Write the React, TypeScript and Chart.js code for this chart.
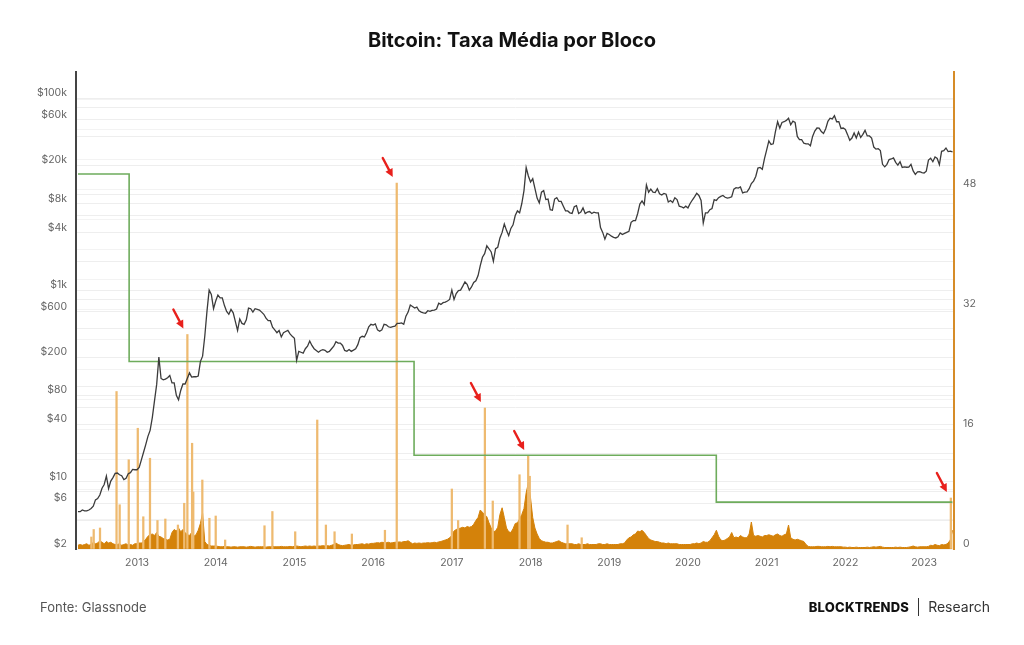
import React, { useEffect, useRef } from 'react';
import { Chart, registerables } from 'chart.js';
Chart.register(...registerables);

// ---------- data ----------
const yearTicks = [2013, 2014, 2015, 2016, 2017, 2018, 2019, 2020, 2021, 2022, 2023];

// samples every ~10 days (1st, 11th, 21st of each month) starting Apr 2012
const sampleStart = 2012.25;
const sampleStep = 1 / 36;

// BTC price (USD)
const priceValues = [
  // 2012 Apr-Dec
  4.9, 4.9, 5.1, 5.0, 5.0, 5.1, 5.3, 5.6, 6.5, 6.7, 7.3, 8.6, 9.4, 11.5, 8.5, 10.2, 11.1, 12.3, 12.4, 11.9, 11.6, 10.6, 10.9, 12.2, 12.5, 13.5, 13.4,
  // 2013
  13.4, 14.2, 17.0, 20.4, 24.5, 29.9, 34.5, 46.9, 70, 104, 200, 120, 116, 118, 122, 129, 108, 108, 80, 72, 90, 105, 105, 120, 137, 124, 125, 125, 127, 180, 205, 330, 600, 1000, 900, 640,
  // 2014
  770, 890, 830, 830, 690, 600, 560, 630, 580, 470, 380, 500, 450, 440, 490, 650, 640, 590, 640, 630, 620, 590, 560, 510, 480, 480, 410, 385, 360, 380, 325, 360, 370, 380, 350, 330,
  // 2015
  315, 185, 230, 225, 220, 245, 260, 295, 265, 245, 235, 225, 235, 240, 236, 225, 230, 245, 260, 290, 280, 280, 265, 235, 230, 240, 230, 237, 245, 270, 320, 330, 325, 360, 415, 440,
  // 2016
  432, 445, 385, 372, 385, 440, 435, 415, 410, 417, 420, 450, 450, 455, 440, 535, 590, 700, 675, 650, 665, 610, 590, 580, 575, 610, 600, 615, 620, 635, 730, 710, 740, 750, 770, 800,
  // 2017
  1000, 800, 920, 990, 1000, 1100, 1220, 1150, 1000, 1080, 1200, 1250, 1420, 1800, 2200, 2400, 2900, 2700, 2500, 2000, 2700, 2800, 3500, 4000, 4900, 4200, 3700, 4400, 4800, 6000, 6700, 6400, 8000, 10900, 19000, 15500,
  // 2018
  13400, 14500, 11500, 9100, 8100, 10500, 10900, 8800, 8900, 6900, 6800, 8900, 9200, 8400, 8400, 7500, 6700, 6700, 6400, 6300, 7400, 7600, 6300, 6500, 7200, 6300, 6500, 6600, 6300, 6500, 6400, 6400, 4500, 4000, 3400, 3900,
  // 2019
  3800, 3650, 3550, 3500, 3600, 3950, 3800, 3900, 4000, 4100, 5100, 5300, 5300, 6300, 7900, 8500, 7800, 12500, 10500, 11300, 10500, 10400, 11400, 10100, 9800, 10200, 10000, 8300, 8600, 8200, 9200, 8800, 7500, 7400, 7200, 7500,
  // 2020
  7200, 8000, 8700, 9400, 10200, 9700, 8600, 5000, 6400, 6400, 6900, 7100, 8800, 8600, 9200, 9500, 9700, 9300, 9100, 9200, 9400, 11300, 11700, 11600, 11900, 10300, 10500, 10600, 11400, 12900, 13700, 15300, 18700, 19000, 18200, 23500,
  // 2021
  29000, 36000, 33000, 33500, 45000, 57000, 49000, 56000, 57000, 58800, 62000, 53000, 57800, 56000, 40000, 37000, 37000, 34000, 33500, 33500, 32000, 40000, 45500, 49000, 48800, 45000, 43000, 48200, 57500, 62000, 61000, 66000, 57000, 57200, 48500, 49000,
  // 2022
  47300, 41800, 36500, 38500, 43500, 38500, 44400, 39000, 42000, 46300, 40500, 40500, 38500, 31000, 29500, 29800, 28500, 20500, 19300, 20500, 23000, 23300, 23900, 21500, 20100, 21800, 19000, 19300, 19100, 19200, 20500, 17500, 16100, 17100, 17200, 16800,
  // 2023 Jan-May
  16600, 17400, 22700, 23700, 21800, 24500, 23600, 20300, 28000, 28500, 30300, 27800, 28100, 27600,
];

// average fee per block (BTC)
const feeValues = [
  // 2012 Apr-Dec
  0.5, 0.6, 0.5, 0.6, 0.7, 0.5, 0.6, 0.9, 0.7, 0.8, 1.1, 0.9, 0.7, 1.0, 0.8, 0.9, 0.7, 0.6, 0.6, 0.7, 0.5, 0.6, 0.7, 0.5, 0.6, 0.5, 0.7,
  // 2013
  0.7, 0.8, 0.8, 1.0, 1.3, 1.7, 1.9, 2.0, 1.8, 2.2, 1.7, 1.6, 1.4, 1.3, 1.2, 1.3, 2.2, 2.6, 2.4, 2.8, 2.3, 2.6, 2.2, 1.9, 1.8, 2.2, 1.7, 1.9, 2.5, 3.4, 4.8, 1.0, 0.6, 0.5, 0.4, 0.4,
  // 2014
  0.4, 0.35, 0.3, 0.3, 0.35, 0.3, 0.3, 0.25, 0.3, 0.3, 0.25, 0.3, 0.3, 0.3, 0.25, 0.3, 0.35, 0.3, 0.25, 0.3, 0.3, 0.3, 0.3, 0.25, 0.3, 0.3, 0.35, 0.3, 0.3, 0.3, 0.35, 0.3, 0.3, 0.3, 0.35, 0.3,
  // 2015
  0.35, 0.4, 0.35, 0.3, 0.35, 0.4, 0.35, 0.4, 0.35, 0.4, 0.35, 0.4, 0.4, 0.45, 0.4, 0.45, 0.4, 0.5, 0.6, 0.8, 0.6, 0.5, 0.45, 0.5, 0.55, 0.6, 0.5, 0.55, 0.6, 0.6, 0.65, 0.7, 0.6, 0.7, 0.65, 0.75,
  // 2016
  0.75, 0.8, 0.85, 0.8, 0.9, 0.85, 0.85, 0.9, 0.8, 0.85, 0.9, 0.9, 0.95, 0.9, 1.0, 1.0, 1.1, 0.9, 0.7, 0.8, 0.75, 0.8, 0.75, 0.8, 0.8, 0.85, 0.8, 0.85, 0.9, 0.85, 0.95, 1.0, 1.1, 1.2, 1.3, 1.5,
  // 2017
  1.8, 2.4, 2.6, 2.7, 2.8, 2.9, 2.8, 3.0, 2.9, 3.0, 3.3, 3.8, 4.2, 5.2, 4.9, 4.6, 4.3, 3.5, 2.8, 2.3, 2.4, 2.9, 4.6, 5.5, 4.2, 2.8, 2.3, 2.2, 2.7, 3.4, 3.5, 4.0, 4.6, 5.4, 7.5, 8.8,
  // 2018
  6.8, 4.2, 2.8, 2.0, 1.4, 1.1, 1.0, 0.9, 0.9, 0.8, 0.8, 0.9, 1.0, 1.1, 0.9, 0.8, 0.7, 0.7, 0.7, 0.7, 0.6, 0.6, 0.7, 0.6, 0.6, 0.6, 0.7, 0.6, 0.6, 0.6, 0.6, 0.7, 0.7, 0.6, 0.6, 0.7,
  // 2019
  0.6, 0.6, 0.6, 0.6, 0.6, 0.7, 0.7, 0.8, 1.2, 1.5, 1.6, 1.9, 2.0, 2.4, 2.3, 2.5, 2.2, 1.8, 1.4, 1.2, 1.1, 1.0, 1.0, 0.9, 0.8, 0.8, 0.7, 0.8, 0.7, 0.7, 0.7, 0.7, 0.6, 0.6, 0.6, 0.6,
  // 2020
  0.6, 0.6, 0.7, 0.7, 0.8, 0.7, 0.8, 1.0, 0.9, 0.9, 1.1, 1.5, 1.9, 2.5, 1.7, 1.2, 1.1, 1.2, 1.4, 1.6, 2.2, 1.5, 1.6, 1.5, 1.8, 1.6, 1.5, 1.5, 2.0, 3.6, 1.8, 1.7, 1.8, 1.7, 1.6, 1.8,
  // 2021
  1.8, 1.9, 1.8, 1.7, 1.9, 2.0, 1.8, 1.7, 1.9, 2.0, 3.2, 1.5, 1.3, 1.2, 1.3, 1.2, 1.1, 1.0, 0.6, 0.35, 0.3, 0.3, 0.3, 0.35, 0.35, 0.3, 0.3, 0.3, 0.35, 0.3, 0.35, 0.3, 0.3, 0.3, 0.3, 0.25,
  // 2022
  0.25, 0.2, 0.25, 0.2, 0.2, 0.25, 0.2, 0.2, 0.2, 0.2, 0.25, 0.2, 0.25, 0.3, 0.25, 0.3, 0.35, 0.25, 0.2, 0.2, 0.2, 0.2, 0.2, 0.25, 0.2, 0.25, 0.2, 0.2, 0.2, 0.25, 0.3, 0.4, 0.3, 0.25, 0.3, 0.3,
  // 2023 Jan-May
  0.3, 0.3, 0.35, 0.5, 0.45, 0.6, 0.5, 0.45, 0.6, 0.55, 0.6, 0.8, 1.2, 2.5,
];

// single-day fee spikes (decimal year, BTC)
const spikeDates = [
  2012.42, 2012.45, 2012.53, 2012.74, 2012.78, 2012.895, 2013.01, 2013.08, 2013.165, 2013.26, 2013.36, 2013.52, 2013.6,
  2013.64, 2013.70, 2013.715, 2013.83, 2013.92, 2014.0, 2014.12, 2014.62, 2014.72, 2015.01, 2015.29, 2015.40, 2015.51,
  2015.73, 2016.15, 2016.30, 2017.0, 2017.08, 2017.42, 2017.52, 2017.86, 2017.97, 2017.99, 2018.47, 2018.65, 2023.34,
];
const spikeValues = [
  1.6, 2.6, 2.8, 21, 5.9, 11.9, 16.1, 4.3, 12.1, 3.8, 4.0, 3.2, 6.1,
  28.6, 14.1, 7.6, 9.2, 4.1, 4.4, 1.2, 3.1, 5.0, 2.3, 17.2, 3.2, 2.3,
  2.0, 2.5, 48.8, 8.0, 3.8, 18.8, 6.4, 9.9, 12.4, 9.7, 3.2, 1.5, 6.8,
];

// block subsidy (BTC)
const rewardDates = [2012.25, 2012.9, 2016.52, 2020.36, 2023.36];
const rewardValues = [50, 25, 12.5, 6.25, 6.25];

// highlighted spikes
const arrowDates = [2013.64, 2016.30, 2017.42, 2017.97, 2023.34];
const arrowValues = [28.6, 48.8, 18.8, 12.4, 6.8];

const priceTickValues = [2, 4, 6, 8, 10, 20, 40, 60, 80, 100, 200, 400, 600, 800, 1000, 2000, 4000, 6000, 8000, 10000, 20000, 40000, 60000, 80000, 100000];
const priceLabeled = [2, 6, 10, 40, 80, 200, 600, 1000, 4000, 8000, 20000, 60000, 100000];
const feeTickValues = [0, 4, 8, 12, 16, 20, 24, 28, 32, 36, 40, 44, 48, 52, 56, 60];
const feeLabeled = [0, 16, 32, 48];

// ---------- helpers ----------
const sampled = (vals: number[]) => vals.map((v, i) => ({ x: sampleStart + i * sampleStep, y: v }));
const zip = (xs: number[], ys: number[]) => xs.map((x, i) => ({ x, y: ys[i] }));
const fmtPrice = (v: number) => (v >= 1000 ? `$${v / 1000}k` : `$${v}`);

const arrowPlugin = {
  id: 'redArrows',
  afterDatasetsDraw(chart: any) {
    const { ctx, scales } = chart;
    const x = scales.x;
    const y1 = scales.y1;
    ctx.save();
    ctx.strokeStyle = '#e8201c';
    ctx.fillStyle = '#e8201c';
    ctx.lineWidth = 2.4;
    ctx.lineCap = 'round';
    arrowDates.forEach((d, i) => {
      const px = x.getPixelForValue(d);
      const py = y1.getPixelForValue(arrowValues[i]);
      const tipX = px - 4;
      const tipY = py - 6;
      const tailX = tipX - 10;
      const tailY = tipY - 19;
      const ang = Math.atan2(tipY - tailY, tipX - tailX);
      const head = 8;
      const bx = tipX - head * Math.cos(ang);
      const by = tipY - head * Math.sin(ang);
      ctx.beginPath();
      ctx.moveTo(tailX, tailY);
      ctx.lineTo(bx, by);
      ctx.stroke();
      ctx.beginPath();
      ctx.moveTo(tipX, tipY);
      ctx.lineTo(bx - 4 * Math.sin(ang), by + 4 * Math.cos(ang));
      ctx.lineTo(bx + 4 * Math.sin(ang), by - 4 * Math.cos(ang));
      ctx.closePath();
      ctx.fill();
    });
    ctx.restore();
  },
};

export default function App() {
  const canvasRef = useRef<HTMLCanvasElement | null>(null);

  useEffect(() => {
    document.body.style.margin = '0';
    const canvas = canvasRef.current;
    if (!canvas) return;
    Chart.defaults.font.family = 'Inter, "Noto Sans", sans-serif';
    const chart = new Chart(canvas, {
      type: 'line',
      data: {
        datasets: [
          {
            label: 'Preço',
            data: sampled(priceValues),
            yAxisID: 'y',
            borderColor: '#3b3b3b',
            borderWidth: 1.3,
            pointRadius: 0,
            tension: 0,
            order: 0,
          },
          {
            label: 'Subsídio',
            data: zip(rewardDates, rewardValues),
            yAxisID: 'y1',
            borderColor: 'rgb(110,172,92)',
            borderWidth: 1.6,
            pointRadius: 0,
            stepped: 'before',
            order: 1,
          },
          {
            type: 'bar',
            label: 'Picos',
            data: zip(spikeDates, spikeValues),
            yAxisID: 'y1',
            backgroundColor: 'rgb(238,186,112)',
            barThickness: 1.6,
            grouped: false,
            order: 2,
          } as any,
          {
            label: 'Taxa média',
            data: sampled(feeValues),
            yAxisID: 'y1',
            borderColor: 'rgb(212,130,10)',
            backgroundColor: 'rgb(212,130,10)',
            borderWidth: 1,
            pointRadius: 0,
            tension: 0,
            fill: 'origin',
            order: 3,
          },
        ],
      },
      options: {
        animation: false,
        responsive: false,
        events: [],
        layout: { padding: { top: 72, left: 0, right: 0, bottom: 0 } },
        plugins: { legend: { display: false }, tooltip: { enabled: false }, title: { display: false } },
        scales: {
          x: {
            type: 'linear',
            offset: false,
            min: 2012.225,
            max: 2023.38,
            afterBuildTicks: (s: any) => {
              s.ticks = yearTicks.map((v) => ({ value: v }));
            },
            afterFit: (s: any) => {
              s.height = 96;
            },
            ticks: {
              callback: (v: any) => String(v),
              color: '#666',
              font: { size: 10.5 },
              padding: 8,
              autoSkip: false,
              maxRotation: 0,
            },
            grid: { display: false, drawTicks: false, offset: false },
            border: { display: false },
          },
          y: {
            type: 'logarithmic',
            position: 'left',
            min: 2,
            max: 188000,
            afterBuildTicks: (s: any) => {
              s.ticks = priceTickValues.map((v) => ({ value: v }));
            },
            afterFit: (s: any) => {
              s.width = 76;
            },
            ticks: {
              callback: (v: any) => (priceLabeled.includes(Number(v)) ? fmtPrice(Number(v)) : ''),
              color: '#666',
              font: { size: 10.5 },
              padding: 9,
              labelOffset: -5,
              autoSkip: false,
            },
            grid: { color: '#eeeeee', drawTicks: false },
            border: { color: '#444', width: 2 },
          },
          y1: {
            type: 'linear',
            position: 'right',
            min: 0,
            max: 63.6,
            afterBuildTicks: (s: any) => {
              s.ticks = feeTickValues.map((v) => ({ value: v }));
            },
            afterFit: (s: any) => {
              s.width = 70;
            },
            ticks: {
              callback: (v: any) => (feeLabeled.includes(Number(v)) ? String(v) : ''),
              color: '#666',
              font: { size: 10.5 },
              padding: 9,
              labelOffset: -5,
              autoSkip: false,
            },
            grid: { color: '#f3f3f3', drawTicks: false },
            border: { color: 'rgb(214,140,40)', width: 2 },
          },
        },
      },
      plugins: [arrowPlugin],
    } as any);
    return () => chart.destroy();
  }, []);

  return (
    <div style={{ position: 'fixed', left: 0, top: 0, width: 1024, height: 645, background: '#fff', overflow: 'hidden' }}>
      <canvas ref={canvasRef} width={1024} height={645} style={{ position: 'absolute', left: 0, top: 0, display: 'block' }} />
      <div
        style={{
          position: 'absolute',
          top: 28,
          left: 0,
          width: 1024,
          textAlign: 'center',
          fontFamily: 'Inter, sans-serif',
          fontWeight: 700,
          fontSize: 20,
          lineHeight: '24px',
          color: '#111',
        }}
      >
        Bitcoin: Taxa Média por Bloco
      </div>
      <div
        style={{
          position: 'absolute',
          top: 599,
          left: 40,
          fontFamily: 'Inter, sans-serif',
          fontSize: 13,
          lineHeight: '16px',
          color: '#555',
        }}
      >
        Fonte: Glassnode
      </div>
      <div
        style={{
          position: 'absolute',
          top: 597,
          right: 34,
          display: 'flex',
          alignItems: 'center',
          fontFamily: 'Inter, sans-serif',
          lineHeight: '20px',
        }}
      >
        <span style={{ fontWeight: 800, fontSize: 13, color: '#111', letterSpacing: 0.2 }}>BLOCKTRENDS</span>
        <span style={{ display: 'inline-block', width: 1, height: 18, background: '#333', margin: '0 9px' }} />
        <span style={{ fontWeight: 400, fontSize: 14, color: '#333' }}>Research</span>
      </div>
    </div>
  );
}
